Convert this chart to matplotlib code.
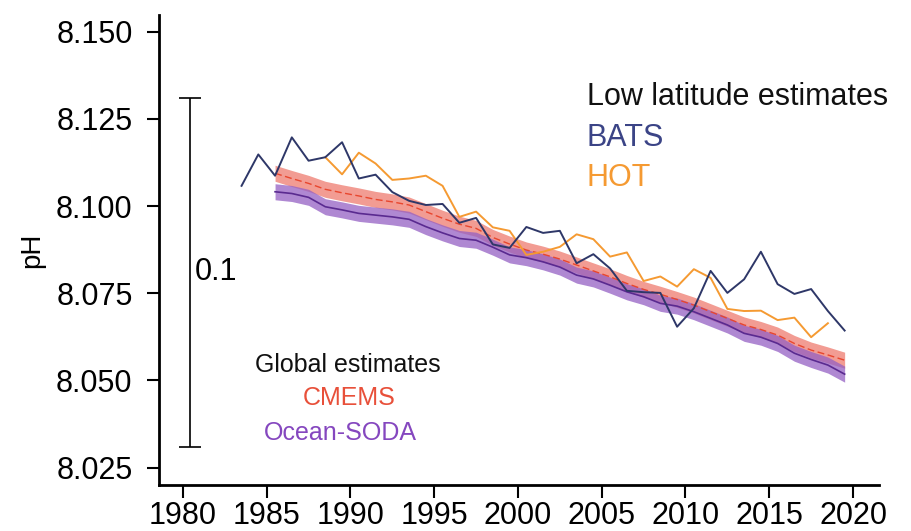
import matplotlib
matplotlib.use('Agg')
from matplotlib import pyplot as plt
import numpy as np

plt.rcParams['font.family'] = ['Liberation Sans', 'DejaVu Sans']

# annual means, plotted at mid-year
bats_years = np.arange(1983.5, 2020.0, 1.0)
bats_ph = [8.1058, 8.1148, 8.1087, 8.1197, 8.1130, 8.1140, 8.1183, 8.1079,
           8.1090, 8.1040, 8.1015, 8.1003, 8.1006, 8.0952, 8.0966, 8.0890,
           8.0880, 8.0940, 8.0923, 8.0929, 8.0836, 8.0862, 8.0821, 8.0757,
           8.0753, 8.0751, 8.0654, 8.0707, 8.0814, 8.0751, 8.0790, 8.0869,
           8.0776, 8.0748, 8.0762, 8.0699, 8.0643]

hot_years = np.arange(1988.5, 2019.0, 1.0)
hot_ph = [8.1140, 8.1091, 8.1153, 8.1122, 8.1075, 8.1079, 8.1087, 8.1058,
          8.0969, 8.0984, 8.0939, 8.0929, 8.0860, 8.0869, 8.0883, 8.0919,
          8.0905, 8.0855, 8.0867, 8.0785, 8.0798, 8.0769, 8.0819, 8.0794,
          8.0705, 8.0699, 8.0700, 8.0673, 8.0680, 8.0624, 8.0664]

glob_years = np.arange(1985.5, 2020.0, 1.0)
cmems_ph = [8.1094, 8.1079, 8.1065, 8.1048, 8.1038, 8.1029, 8.1019, 8.1012,
            8.1003, 8.0984, 8.0965, 8.0948, 8.0936, 8.0910, 8.0891, 8.0874,
            8.0862, 8.0848, 8.0831, 8.0814, 8.0797, 8.0778, 8.0761, 8.0747,
            8.0732, 8.0716, 8.0697, 8.0678, 8.0659, 8.0646, 8.0630, 8.0606,
            8.0587, 8.0573, 8.0558]
soda_ph = [8.1041, 8.1036, 8.1025, 8.0998, 8.0989, 8.0979, 8.0974, 8.0969,
           8.0962, 8.0941, 8.0923, 8.0907, 8.0902, 8.0882, 8.0860, 8.0852,
           8.0840, 8.0825, 8.0802, 8.0791, 8.0773, 8.0754, 8.0740, 8.0721,
           8.0713, 8.0697, 8.0678, 8.0659, 8.0635, 8.0624, 8.0606, 8.0578,
           8.0560, 8.0544, 8.0518]
cmems_unc = 0.0023
soda_unc = 0.0023

c_bats = '#2e3768'
c_hot = '#f59a32'
c_cmems = '#e8462e'
c_cmems_band = '#ef8378'
c_soda = '#5a2a90'
c_soda_band = '#9460c4'


def main():
    fig = plt.figure(figsize=(9.12, 5.31), dpi=100)
    ax = fig.add_axes([0.1743, 0.0872, 0.7895, 0.884])

    cm = np.array(cmems_ph)
    sd = np.array(soda_ph)
    ax.fill_between(glob_years, cm - cmems_unc, cm + cmems_unc,
                    color=c_cmems_band, alpha=0.8, lw=0)
    ax.fill_between(glob_years, sd - soda_unc, sd + soda_unc,
                    color=c_soda_band, alpha=0.75, lw=0)
    ax.plot(glob_years, cm, color=c_cmems, lw=1.0, ls=(0, (5, 2.5)))
    ax.plot(glob_years, sd, color=c_soda, lw=1.2)
    ax.plot(hot_years, hot_ph, color=c_hot, lw=1.4)
    ax.plot(bats_years, bats_ph, color=c_bats, lw=1.4)

    # 0.1 pH scale bar
    ax.errorbar([1980.45], [8.081], yerr=[0.05], color='black', lw=1.2,
                capsize=8, capthick=1.2)
    ax.text(1980.7, 8.081, '0.1', fontsize=22, va='center', ha='left')

    ax.text(2004.1, 8.1313, 'Low latitude estimates', fontsize=22,
            va='center', ha='left', color='#111111')
    ax.text(2004.1, 8.1195, 'BATS', fontsize=22, va='center', ha='left',
            color='#3b4486')
    ax.text(2004.1, 8.1080, 'HOT', fontsize=22, va='center', ha='left',
            color=c_hot)

    ax.text(1989.85, 8.0544, 'Global estimates', fontsize=18, va='center',
            ha='center', color='#111111')
    ax.text(1989.95, 8.0450, 'CMEMS', fontsize=18, va='center',
            ha='center', color='#e8503a')
    ax.text(1989.4, 8.0349, 'Ocean-SODA', fontsize=18, va='center',
            ha='center', color='#8547bf')

    ax.set_xlim(1978.57, 2021.55)
    ax.set_ylim(8.0201, 8.1547)
    ax.set_xticks(np.arange(1980, 2021, 5))
    ax.set_yticks([8.025, 8.050, 8.075, 8.100, 8.125, 8.150])
    ax.set_yticklabels(['8.025', '8.050', '8.075', '8.100', '8.125', '8.150'])
    ax.tick_params(labelsize=22, length=9, width=1.5, direction='out')
    ax.tick_params(axis='y', pad=10)
    ax.tick_params(axis='x', pad=3)
    ax.set_ylabel('pH', fontsize=20, labelpad=8)

    for s in ['top', 'right']:
        ax.spines[s].set_visible(False)
    for s in ['left', 'bottom']:
        ax.spines[s].set_linewidth(2.0)

    plt.savefig('out.png', dpi=100)


if __name__ == '__main__':
    main()
